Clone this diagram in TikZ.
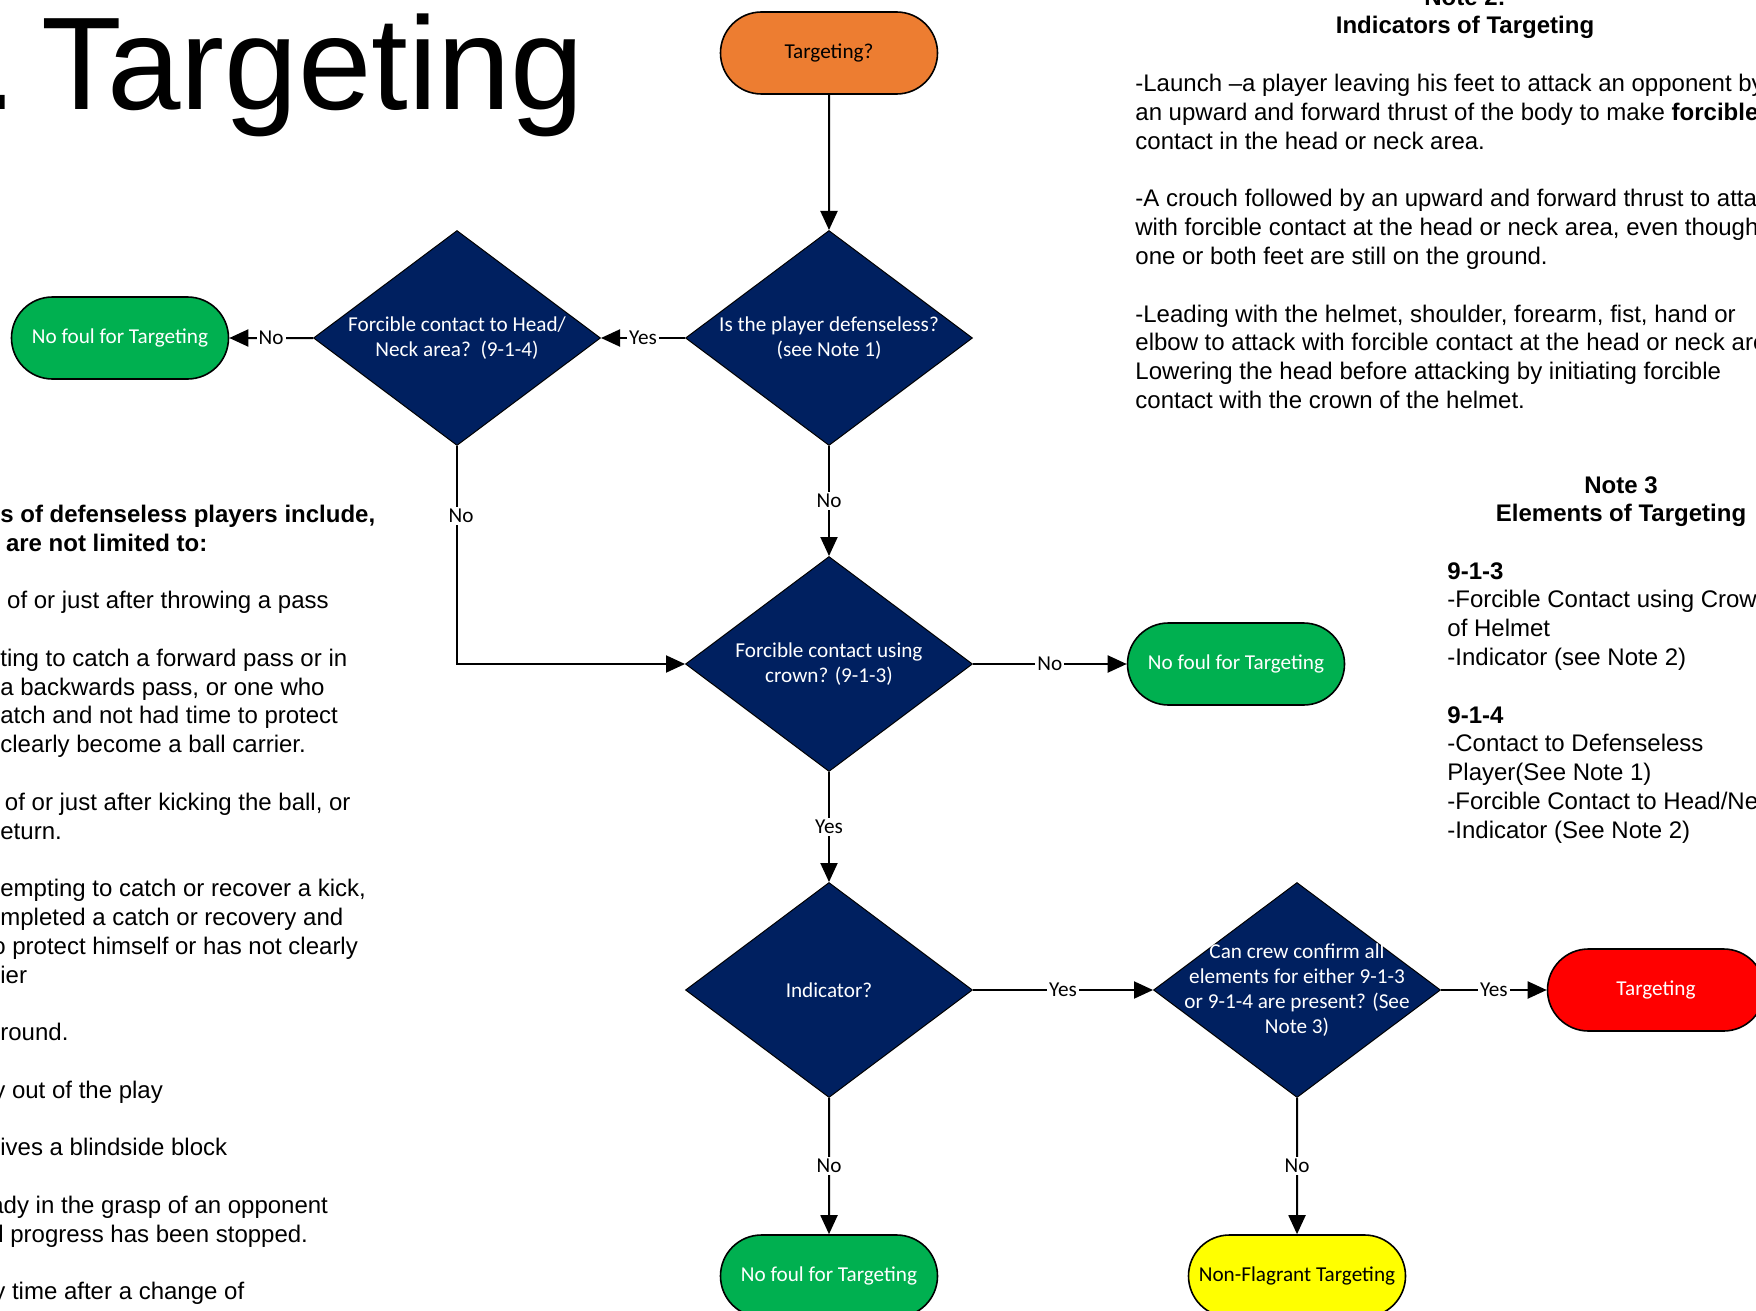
\documentclass[tikz,border=0pt]{standalone}
\usepackage{fontspec}
\setmainfont{Liberation Sans}
\newfontfamily\flowfont{Carlito}
\usetikzlibrary{shapes.geometric,shapes.misc,arrows.meta}
\definecolor{navyq}{HTML}{002060}
\definecolor{orangeq}{HTML}{ED7D31}
\definecolor{greenq}{HTML}{00B050}
\definecolor{redq}{HTML}{FF0000}
\definecolor{yellowq}{HTML}{FFFF00}
\begin{document}
\begin{tikzpicture}[x=.5pt,y=-.5pt,
  term/.style={rounded rectangle,draw,line width=.8pt,minimum width=108.5pt,
    minimum height=41pt,inner sep=0pt,font=\flowfont\fontsize{10.6}{12.6}\selectfont},
  decision/.style={diamond,draw,line width=.5pt,fill=navyq,
    minimum width=143.5pt,minimum height=107.5pt,inner sep=0pt},
  dtext/.style={text=white,align=center,inner sep=0pt,
    font=\flowfont\fontsize{10.6}{12.6}\selectfont},
  flow/.style={line width=1pt,-{Triangle[length=9.5pt,width=8.5pt]}},
  lbl/.style={fill=white,inner sep=1pt,font=\flowfont\fontsize{10.6}{12.6}\selectfont},
  note/.style={align=left,inner sep=0pt,font=\fontsize{12}{14.4}\selectfont},
  notehead/.style={align=center,inner sep=0pt,font=\bfseries\fontsize{12}{14.4}\selectfont}]
\useasboundingbox (0,0) rectangle (1756,1311);
\clip (0,0) rectangle (1756,1311);
%
\node[anchor=base west,inner sep=0pt,font=\fontsize{66}{72}\selectfont] (title)
  at (-93,110) {1.\hspace{0.18em}Targeting};
%
\node[note,anchor=north west] (note1) at (0,504.5) {%
\textbf{s of defenseless players include,}\\
\hspace*{2.8pt}\textbf{are not limited to:}\\[14.4pt]
\hspace*{3.4pt}of or just after throwing a pass\\[14.4pt]
ting to catch a forward pass or in\\
a backwards pass, or one who\\
atch and not had time to protect\\
clearly become a ball carrier.\\[14.4pt]
\hspace*{2.3pt}of or just after kicking the ball, or\\
eturn.\\[14.4pt]
empting to catch or recover a kick,\\
mpleted a catch or recovery and\\
\hspace*{-4pt}o protect himself or has not clearly\\
ier\\[14.4pt]
round.\\[14.4pt]
\hspace*{-3.5pt}y out of the play\\[14.4pt]
ives a blindside block\\[14.4pt]
\hspace*{-5pt}ady in the grasp of an opponent\\
\hspace*{-5pt}d progress has been stopped.\\[14.4pt]
\hspace*{-3.5pt}y time after a change of};
%
\node[notehead,anchor=north] (note2h) at (1465,-12) {Note 2:\\Indicators of Targeting};
\node[note,anchor=north west] (note2) at (1135,74) {%
-Launch –a player leaving his feet to attack an opponent by\\
an upward and forward thrust of the body to make \textbf{forcible}\\
contact in the head or neck area.\\[14.4pt]
-A crouch followed by an upward and forward thrust to atta\\
with forcible contact at the head or neck area, even though\\
one or both feet are still on the ground.\\[14.4pt]
-Leading with the helmet, shoulder, forearm, fist, hand or\\
elbow to attack with forcible contact at the head or neck are\\
Lowering the head before attacking by initiating forcible\\
contact with the crown of the helmet.};
%
\node[notehead,anchor=north] (note3h) at (1621,476) {Note 3\\Elements of Targeting};
\node[note,anchor=north west] (note3) at (1447,562) {%
\textbf{9-1-3}\\
-Forcible Contact using Crow\\
of Helmet\\
-Indicator (see Note 2)\\[14.4pt]
\textbf{9-1-4}\\
-Contact to Defenseless\\
Player(See Note 1)\\
-Forcible Contact to Head/Ne\\
-Indicator (See Note 2)};
%
\node[term,fill=orangeq] (start) at (829,53) {Targeting?};
\node[decision] (d1) at (829,338) {};
\node[dtext] (d1t) at (d1) {Is the player defenseless?\\(see Note 1)};
\node[decision] (d2) at (457,338) {};
\node[dtext] (d2t) at (d2) {Forcible contact to Head/\\Neck area?\ \ (9-1-4)};
\node[term,fill=greenq,text=white] (nfl) at (120,338) {No foul for Targeting};
\node[decision] (d3) at (829,664) {};
\node[dtext] (d3t) at (d3) {Forcible contact using\\crown? (9-1-3)};
\node[term,fill=greenq,text=white] (nfr) at (1236,664) {No foul for Targeting};
\node[decision] (d4) at (829,990) {};
\node[dtext] (d4t) at (d4) {Indicator?};
\node[decision] (d5) at (1297,990) {};
\node[dtext] (d5t) at (d5) {Can crew confirm all\\elements for either 9-1-3\\or 9-1-4 are present? (See\\Note 3)};
\node[term,fill=redq,text=white] (targ) at (1656,990) {Targeting};
\node[term,fill=greenq,text=white] (nfb) at (829,1276) {No foul for Targeting};
\node[term,fill=yellowq] (nft) at (1297,1276) {Non-Flagrant Targeting};
%
\draw[flow] (start) -- (d1);
\draw[flow] (d1) -- node[lbl] {Yes} (d2);
\draw[flow] (d2) -- node[lbl] {No} (nfl);
\draw[flow] (d1) -- node[lbl] {No} (d3);
\draw[flow] (d2.south) |- node[lbl,pos=.16,xshift=2pt] {No} (d3.west);
\draw[flow] (d3) -- node[lbl] {No} (nfr);
\draw[flow] (d3) -- node[lbl] {Yes} (d4);
\draw[flow] (d4) -- node[lbl] {Yes} (d5);
\draw[flow] (d5) -- node[lbl] {Yes} (targ);
\draw[flow] (d4) -- node[lbl] {No} (nfb);
\draw[flow] (d5) -- node[lbl] {No} (nft);
%
\end{tikzpicture}
\end{document}
